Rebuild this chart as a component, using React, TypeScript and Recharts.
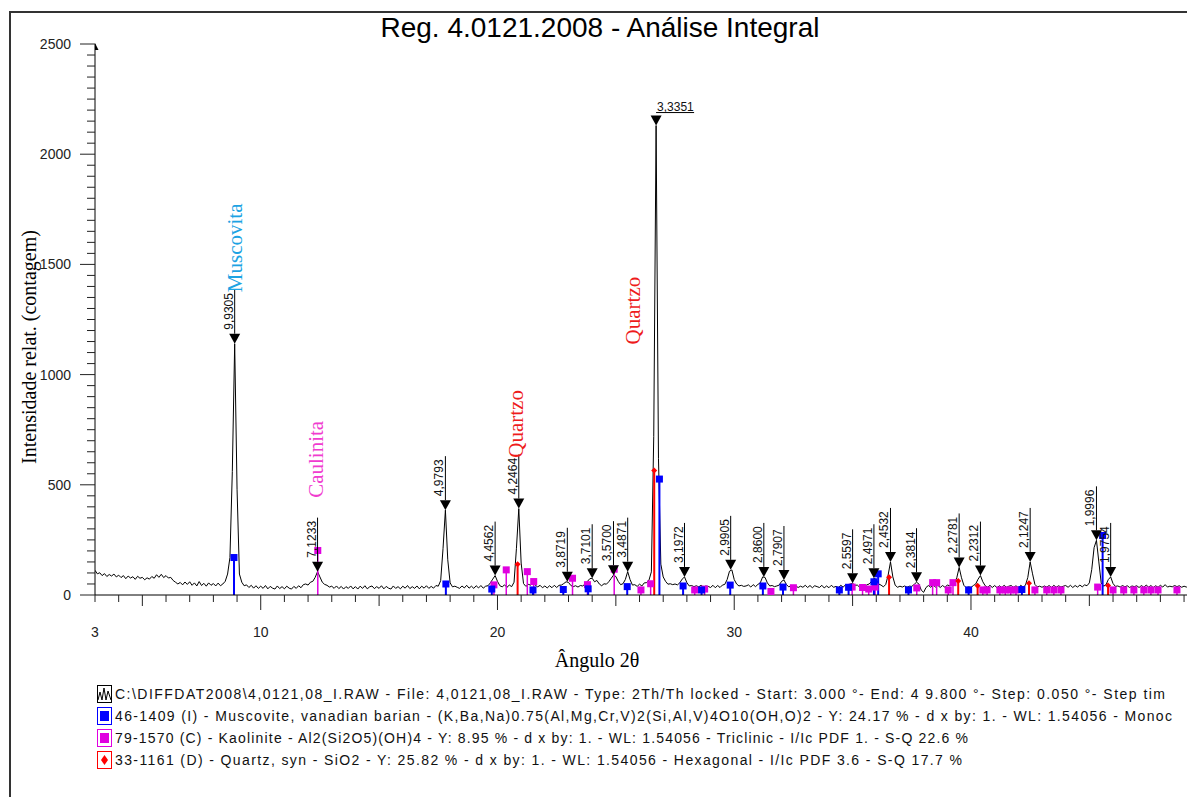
import React from "react";
import { ComposedChart, Line, Scatter, XAxis, YAxis, ReferenceLine } from "recharts";

// scan: 3.0 .. 49.8 deg 2theta, every 0.1 deg
const SCAN_START = 3.0;
const SCAN_STEP = 0.1;

const COUNTS = [
  112, 96, 101, 88, 97, 84, 93, 86, 95, 82,
  90, 79, 88, 74, 86, 77, 83, 71, 85, 76,
  80, 69, 78, 72, 84, 76, 92, 80, 94, 79,
  88, 77, 80, 66, 58, 50, 57, 46, 59, 48,
  60, 44, 55, 41, 61, 43, 53, 40, 55, 44,
  52, 41, 54, 42, 50, 62, 95, 170, 560, 1140,
  480, 95, 58, 42, 46, 34, 44, 31, 42, 30,
  40, 30, 43, 28, 39, 31, 27, 41, 29, 38,
  28, 40, 31, 27, 39, 30, 42, 33, 47, 50,
  45, 58, 62, 80, 106, 82, 58, 48, 44, 36,
  40, 30, 41, 29, 39, 27, 38, 30, 41, 28,
  38, 27, 40, 30, 42, 28, 37, 41, 29, 38,
  30, 42, 28, 39, 31, 27, 41, 30, 38, 28,
  40, 31, 43, 29, 38, 30, 41, 28, 40, 31,
  42, 30, 39, 31, 43, 40, 65, 210, 385, 160,
  55, 37, 40, 35, 30, 41, 32, 44, 31, 40,
  30, 42, 32, 43, 31, 40, 42, 55, 72, 88,
  62, 42, 37, 46, 35, 45, 38, 58, 210, 392,
  145, 52, 39, 48, 45, 55, 44, 37, 44, 33,
  41, 32, 42, 33, 44, 34, 44, 45, 52, 60,
  57, 43, 38, 42, 36, 43, 41, 50, 62, 74,
  76, 60, 66, 50, 42, 51, 49, 60, 75, 90,
  84, 62, 47, 51, 70, 106, 70, 45, 47, 39,
  49, 41, 55, 56, 68, 105, 720, 2130, 620, 140,
  82, 62, 49, 51, 47, 50, 46, 55, 72, 82,
  56, 41, 43, 38, 42, 37, 44, 36, 41, 39,
  34, 44, 33, 43, 34, 45, 48, 70, 108, 114,
  70, 50, 41, 44, 39, 41, 46, 36, 47, 38,
  48, 55, 82, 80, 55, 41, 43, 38, 41, 45,
  62, 68, 48, 37, 42, 38, 41, 34, 40, 35,
  44, 34, 43, 33, 42, 38, 34, 44, 32, 41,
  33, 44, 35, 39, 34, 44, 36, 46, 44, 50,
  53, 44, 45, 35, 44, 37, 46, 50, 62, 76,
  70, 50, 45, 37, 48, 90, 150, 82, 44, 35,
  40, 36, 41, 35, 40, 39, 48, 58, 50, 22,
  12, 34, 43, 35, 45, 36, 44, 34, 43, 35,
  45, 42, 52, 55, 78, 125, 78, 44, 33, 37,
  34, 43, 50, 72, 88, 60, 42, 35, 44, 34,
  43, 33, 42, 34, 44, 35, 40, 43, 34, 42,
  33, 44, 36, 44, 80, 150, 96, 48, 37, 40,
  35, 41, 36, 43, 34, 44, 35, 42, 36, 40,
  43, 35, 44, 34, 43, 36, 45, 37, 46, 42,
  55, 115, 215, 248, 150, 55, 40, 46, 70, 82,
  52, 39, 41, 36, 43, 37, 42, 34, 41, 38,
  42, 34, 43, 35, 45, 36, 43, 33, 42, 35,
  44, 36, 47, 36, 40, 37, 43, 38, 42, 35,
  40, 36, 42, 33, 41, 35, 43, 36, 39,
];

// labelled peaks (d-spacing in Angstrom)
const PEAK_ANGLE = [8.9, 12.4, 17.8, 19.9, 20.9, 22.95, 24.0, 24.9, 25.5, 26.7, 27.9, 29.85, 31.25, 32.1, 35.0, 35.9, 36.6, 37.7, 39.5, 40.4, 42.5, 45.3, 45.9];
const PEAK_COUNTS = [1140, 106, 385, 88, 392, 60, 76, 90, 106, 2130, 82, 114, 82, 68, 53, 76, 150, 58, 125, 88, 150, 248, 82];
const PEAK_LABEL = ["9,9305", "7,1233", "4,9793", "4,4562", "4,2464", "3,8719", "3,7101", "3,5700", "3,4871", "3,3351", "3,1972", "2,9905", "2,8600", "2,7907", "2,5597", "2,4971", "2,4532", "2,3814", "2,2781", "2,2312", "2,1247", "1,9996", "1,9754"];

// reference patterns
const MUSCOVITE_ANGLE = [8.87, 17.82, 19.76, 21.5, 22.78, 23.83, 25.48, 26.84, 27.84, 28.62, 29.83, 31.21, 32.06, 34.44, 34.83, 35.9, 36.08, 37.36, 39.9, 42.15, 45.56];
const MUSCOVITE_COUNTS = [170, 50, 27, 23, 25, 28, 38, 526, 41, 23, 45, 41, 36, 23, 35, 60, 96, 23, 23, 25, 270];

const KAOLINITE_ANGLE = [12.41, 19.85, 20.37, 21.26, 21.53, 23.17, 23.8, 24.93, 26.06, 26.47, 28.33, 28.75, 31.55, 32.5, 34.98, 35.42, 35.68, 35.95, 37.71, 38.38, 38.55, 39.04, 39.24, 40.5, 40.68, 41.22, 41.45, 41.68, 41.9, 42.7, 43.2, 43.5, 43.8, 45.35, 46.0, 46.45, 46.88, 47.3, 47.6, 47.9, 48.7, 49.35];
const KAOLINITE_COUNTS = [202, 46, 114, 106, 61, 76, 47, 117, 23, 51, 23, 27, 16, 33, 36, 34, 27, 36, 32, 56, 56, 23, 56, 23, 23, 23, 23, 23, 23, 23, 23, 23, 23, 36, 23, 23, 23, 23, 23, 23, 23, 23];

const QUARTZ_ANGLE = [20.85, 26.62, 36.54, 39.46, 40.28, 42.45, 45.79];
const QUARTZ_COUNTS = [140, 565, 80, 64, 42, 53, 43];

// phase names written on the pattern
const PHASE_NAME = ["Muscovita", "Caulinita", "Quartzo", "Quartzo"];
const PHASE_ANGLE = [9.21, 12.63, 21.08, 26.0];
const PHASE_COUNTS = [1374, 441, 623, 1137];

const X_LABELS = [3, 10, 20, 30, 40];
const Y_LABELS = [0, 500, 1000, 1500, 2000, 2500];

const LEGEND_ROWS = [
  "C:\\DIFFDAT2008\\4,0121,08_I.RAW - File: 4,0121,08_I.RAW - Type: 2Th/Th locked - Start: 3.000 °- End: 4 9.800 °- Step: 0.050 °- Step tim",
  "46-1409 (I) - Muscovite, vanadian barian - (K,Ba,Na)0.75(Al,Mg,Cr,V)2(Si,Al,V)4O10(OH,O)2 - Y: 24.17 % - d x by: 1. - WL: 1.54056 - Monoc",
  "79-1570 (C) - Kaolinite - Al2(Si2O5)(OH)4 - Y: 8.95 % - d x by: 1. - WL: 1.54056 - Triclinic - I/Ic PDF 1. - S-Q 22.6 %",
  "33-1161 (D) - Quartz, syn - SiO2 - Y: 25.82 % - d x by: 1. - WL: 1.54056 - Hexagonal - I/Ic PDF 3.6 - S-Q 17.7 %",
];

const SANS = "'Liberation Sans', Arial, sans-serif";
const SERIF = "'Liberation Serif', 'Times New Roman', serif";
const BLUE = "#0000ff";
const MAGENTA = "#e000e0";
const RED = "#ff0000";
const PHASE_COLORS: Record<string, string> = {
  Muscovita: "#1ca3e3",
  Caulinita: "#f03ccf",
  Quartzo: "#ee1c1c",
};
const LEGEND_WIDTHS = [1050, 1057, 853, 847];

const pattern = COUNTS.map((c, k) => ({
  a: Math.round((SCAN_START + k * SCAN_STEP) * 100) / 100,
  i: c,
}));
const peaks = PEAK_ANGLE.map((a, k) => ({ a, v: PEAK_COUNTS[k], label: PEAK_LABEL[k] }));
const muscovite = MUSCOVITE_ANGLE.map((a, k) => ({ a, v: MUSCOVITE_COUNTS[k] }));
const kaolinite = KAOLINITE_ANGLE.map((a, k) => ({ a, v: KAOLINITE_COUNTS[k] }));
const quartz = QUARTZ_ANGLE.map((a, k) => ({ a, v: QUARTZ_COUNTS[k] }));
const phases = PHASE_NAME.map((name, k) => ({ a: PHASE_ANGLE[k], v: PHASE_COUNTS[k], name }));

const X_TICKS = Array.from({ length: 47 }, (_, k) => 3 + k);
const Y_TICKS = Array.from({ length: 51 }, (_, k) => k * 50);

function XTick(props: any) {
  const { x, y, payload } = props;
  const v = payload.value;
  const len = v % 10 === 0 ? 15 : v % 5 === 0 ? 11 : 7;
  return (
    <g>
      <line x1={x} x2={x} y1={y} y2={y + len} stroke="#222" />
      {X_LABELS.includes(v) && (
        <text x={x} y={y + 42} textAnchor="middle" fontSize={14} fontFamily={SANS} fill="#222">
          {v}
        </text>
      )}
    </g>
  );
}

function YTick(props: any) {
  const { x, y, payload } = props;
  const v = payload.value;
  const major = Y_LABELS.includes(v);
  return (
    <g>
      <line x1={x - (major ? 15 : 8)} x2={x} y1={y} y2={y} stroke="#222" />
      {major && (
        <text x={x - 24} y={y + 5} textAnchor="end" fontSize={14} fontFamily={SANS} fill="#222">
          {v}
        </text>
      )}
      {v === 2500 && <polygon points={`${x},${y - 1} ${x + 3.5},${y + 6} ${x},${y + 6}`} fill="#000" />}
    </g>
  );
}

function PeakMark(props: any) {
  const { cx, cy, payload } = props;
  if (cx == null || cy == null) return null;
  const top = cy - 10;
  const tri = `${cx - 5.5},${top} ${cx + 5.5},${top} ${cx},${cy}`;
  if (cy < 200) {
    // no room above the strongest reflection: label flat, underlined
    return (
      <g>
        <polygon points={tri} fill="#000" />
        <line x1={cx} x2={cx + 38} y1={top - 3} y2={top - 3} stroke="#000" />
        <text x={cx + 1} y={top - 5} fontSize={12} fontFamily={SANS} fill="#111">
          {payload.label}
        </text>
      </g>
    );
  }
  return (
    <g>
      <polygon points={tri} fill="#000" />
      <line x1={cx} x2={cx} y1={top} y2={top - 44} stroke="#000" />
      <text transform={`translate(${cx - 2},${top - 4}) rotate(-90)`} fontSize={12} fontFamily={SANS} fill="#111">
        {payload.label}
      </text>
    </g>
  );
}

const square = (color: string) => (props: any) =>
  props.cx == null ? null : <rect x={props.cx - 3.5} y={props.cy - 3.5} width={7} height={7} fill={color} />;

const diamond = (props: any) =>
  props.cx == null ? null : (
    <polygon
      points={`${props.cx},${props.cy - 3} ${props.cx + 3},${props.cy} ${props.cx},${props.cy + 3} ${props.cx - 3},${props.cy}`}
      fill={RED}
    />
  );

function PhaseName(props: any) {
  const { cx, cy, payload } = props;
  if (cx == null) return null;
  return (
    <text transform={`translate(${cx},${cy}) rotate(-90)`} fontSize={21} fontFamily={SERIF} fill={PHASE_COLORS[payload.name]}>
      {payload.name}
    </text>
  );
}

function sticks(rows: { a: number; v: number }[], color: string, w: number) {
  return rows.map((r, k) => (
    <ReferenceLine
      key={`${color}-${k}`}
      segment={[{ x: r.a, y: 0 }, { x: r.a, y: r.v }]}
      stroke={color}
      strokeWidth={w}
    />
  ));
}

function LegendIcon({ row, y }: { row: number; y: number }) {
  const colors = ["#000", BLUE, MAGENTA, RED];
  const c = colors[row];
  return (
    <g>
      <rect x={89.5} y={y - 8.5} width={14} height={17} fill="#fff" stroke={c} strokeWidth={1} />
      {row === 0 && (
        <polyline
          points={`${90},${y + 6} ${92},${y - 2} ${94},${y + 6} ${96},${y - 6} ${98},${y + 6} ${100},${y - 3} ${103},${y + 6}`}
          fill="none"
          stroke="#000"
        />
      )}
      {(row === 1 || row === 2) && <rect x={92} y={y - 5} width={9} height={10} fill={c} />}
      {row === 3 && <polygon points={`96.5,${y - 5} 100,${y} 96.5,${y + 5} 93,${y}`} fill={c} />}
    </g>
  );
}

export default function App() {
  return (
    <div style={{ position: "relative", width: 1187, height: 797, overflow: "hidden", marginBottom: -8, background: "#fff" }}>
      <div style={{ position: "absolute", left: 1, top: 3, width: 1400, height: 1000, border: "2px solid #333" }} />
      <div style={{ position: "absolute", left: 0, top: 0 }}>
        <ComposedChart width={1200} height={680} margin={{ top: 36, right: 5, left: 27, bottom: 53 }}>
          <XAxis
            dataKey="a"
            type="number"
            domain={[3, 49.8]}
            allowDataOverflow
            ticks={X_TICKS}
            interval={0}
            tick={XTick}
            tickLine={false}
            tickSize={0}
            tickMargin={0}
            axisLine={{ stroke: "#000" }}
            height={40}
          />
          <YAxis
            type="number"
            domain={[0, 2500]}
            allowDataOverflow
            ticks={Y_TICKS}
            interval={0}
            tick={YTick}
            tickLine={false}
            tickSize={0}
            tickMargin={0}
            axisLine={{ stroke: "#000" }}
            width={60}
          />
          <Line
            data={pattern}
            dataKey="i"
            type="linear"
            stroke="#000"
            strokeWidth={1}
            dot={false}
            isAnimationActive={false}
          />
          {sticks(kaolinite, MAGENTA, 1.5)}
          {sticks(muscovite, BLUE, 2)}
          {sticks(quartz, RED, 2)}
          <Scatter data={kaolinite} dataKey="v" shape={square(MAGENTA)} isAnimationActive={false} />
          <Scatter data={muscovite} dataKey="v" shape={square(BLUE)} isAnimationActive={false} />
          <Scatter data={quartz} dataKey="v" shape={diamond} isAnimationActive={false} />
          <Scatter data={peaks} dataKey="v" shape={PeakMark} isAnimationActive={false} />
          <Scatter data={phases} dataKey="v" shape={PhaseName} isAnimationActive={false} />
        </ComposedChart>
      </div>
      <svg style={{ position: "absolute", left: 0, top: 0 }} width={1187} height={797}>
        <text x={592} y={29} textAnchor="middle" fontSize={28} fontFamily={SANS} fill="#000">
          Reg. 4.0121.2008 - Análise Integral
        </text>
        <text transform="translate(28,339) rotate(-90)" textAnchor="middle" fontSize={20} fontFamily={SERIF} fill="#000">
          Intensidade relat. (contagem)
        </text>
        <text x={589} y={659} textAnchor="middle" fontSize={20} fontFamily={SERIF} fill="#000">
          Ângulo 2θ
        </text>
        {LEGEND_ROWS.map((t, k) => (
          <g key={k}>
            <LegendIcon row={k} y={686 + k * 22} />
            <text
              x={107}
              y={691 + k * 22}
              fontSize={14}
              fontFamily={SANS}
              fill="#111"
              textLength={LEGEND_WIDTHS[k]}
              lengthAdjust="spacing"
            >
              {t}
            </text>
          </g>
        ))}
      </svg>
    </div>
  );
}
